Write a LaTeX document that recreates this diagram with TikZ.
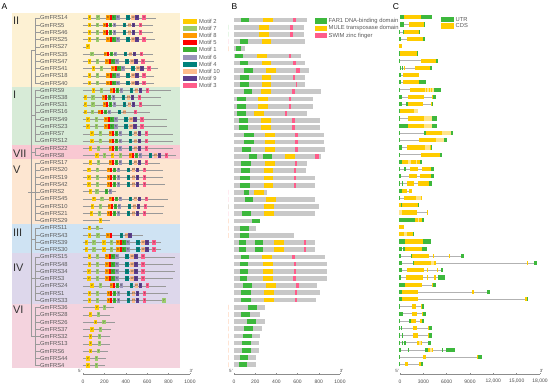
\documentclass[tikz,border=0pt]{standalone}
\usepackage{fontspec}
\setmainfont{Liberation Sans}
\usepackage{xcolor}
\usepackage{tikz}

% group backgrounds
\definecolor{grpII}{HTML}{FDF1D3}
\definecolor{grpI}{HTML}{D7EBD7}
\definecolor{grpVII}{HTML}{F9C8D2}
\definecolor{grpV}{HTML}{FDE6D1}
\definecolor{grpIII}{HTML}{CFE3F3}
\definecolor{grpIV}{HTML}{DDD7EB}
\definecolor{grpVI}{HTML}{F4D3DE}
% motifs
\definecolor{mot1}{HTML}{3CB034}
\definecolor{mot2}{HTML}{FFCC00}
\definecolor{mot3}{HTML}{FF5C8A}
\definecolor{mot4}{HTML}{00827C}
\definecolor{mot5}{HTML}{FF0000}
\definecolor{mot6}{HTML}{9A94B9}
\definecolor{mot7}{HTML}{9CCC6C}
\definecolor{mot8}{HTML}{FF9A00}
\definecolor{mot9}{HTML}{5C3D8E}
\definecolor{mot10}{HTML}{FFBC8C}
% domains and gene structure
\definecolor{bargray}{HTML}{C8C8C8}
\definecolor{domgreen}{HTML}{3DB83D}
\definecolor{domyellow}{HTML}{FFCC00}
\definecolor{dompink}{HTML}{FF5C8A}
\definecolor{cdslight}{HTML}{FFE48A}

\newcommand{\mot}[3]{\node[motif=mot#3] (r#2m#3) at (#1,#2) {#3};}
\newcommand{\core}[2]{% #1 = place of motif 3, #2 = row
    \mot{#1-108}{#2}{8}
    \node[motifv] (r#2m5) at (#1-100,#2) {};
    \mot{#1-90}{#2}{1}
    \mot{#1-78}{#2}{6}
    \mot{#1-48}{#2}{4}
    \mot{#1-33}{#2}{10}
    \mot{#1-21}{#2}{9}
    \mot{#1}{#2}{3}
}

\begin{document}
\begin{tikzpicture}[x=1pt,y=-1pt,
    motif/.style={fill=#1,minimum width=3.4pt,minimum height=4.8pt,inner sep=0pt,
                  font=\fontsize{3}{3}\selectfont,text=black!80},
    motifv/.style={fill=mot5,minimum width=2.2pt,minimum height=4.8pt,inner sep=0pt},
    track/.style={draw=black!40,line width=0.4pt},
    treeline/.style={draw=black!40,line width=0.35pt},
    genename/.style={anchor=west,inner sep=0pt,font=\fontsize{5.8}{6}\selectfont,text=black!65},
    grouplabel/.style={anchor=west,inner sep=0pt,font=\fontsize{11}{11}\selectfont,text=black!80},
    legtext/.style={anchor=west,inner sep=0pt,font=\fontsize{5.8}{6}\selectfont,text=black!65},
    panel/.style={inner sep=0pt,font=\fontsize{8.5}{9}\selectfont},
    axisline/.style={draw=black!45,line width=0.4pt},
    ticklab/.style={inner sep=0pt,font=\fontsize{5}{5}\selectfont,text=black!70},
    primelab/.style={inner sep=0pt,font=\fontsize{4.5}{5}\selectfont,text=black!70},
    intron/.style={draw=black!30,line width=0.5pt},
    segu/.style={fill=domgreen},
    segc/.style={fill=domyellow},
    segl/.style={fill=cdslight}]

\fill[white] (0,0) rectangle (550,386);
\useasboundingbox (0,0) rectangle (550,386);

    % Panel letters
\node[panel] (pA) at (4.5,7) {A};
\node[panel] (pB) at (234.5,7) {B};
\node[panel] (pC) at (396,7) {C};

    % ---------------- A: tree and motifs ----------------
\begin{scope}[shift={(0,17.8)},y=-7.245pt]
    \fill[grpII]  (12,-0.66) rectangle (180,9.5);
    \fill[grpI]   (12,9.5)   rectangle (180,17.5);
    \fill[grpVII] (12,17.5)  rectangle (180,19.5);
    \fill[grpV]   (12,19.5)  rectangle (180,28.5);
    \fill[grpIII] (12,28.5)  rectangle (180,32.5);
    \fill[grpIV]  (12,32.5)  rectangle (180,39.5);
    \fill[grpVI]  (12,39.5)  rectangle (180,48.3);

    % group names
    \node[grouplabel] (gII)  at (12.8,0.4)  {II};
    \node[grouplabel] (gI)   at (12.8,10.6) {I};
    \node[grouplabel] (gVII) at (12.8,18.8) {VII};
    \node[grouplabel] (gV)   at (12.8,20.9) {V};
    \node[grouplabel] (gIII) at (12.8,29.6) {III};
    \node[grouplabel] (gIV)  at (12.8,34.5) {IV};
    \node[grouplabel] (gVI)  at (12.8,40.3) {VI};

    % gene names
    \foreach \g [count=\i from 0] in {GmFRS14,GmFRS5,GmFRS46,GmFRS25,GmFRS27,GmFRS35,GmFRS47,
        GmFRS41,GmFRS18,GmFRS40,GmFRS9,GmFRS38,GmFRS31,GmFRS16,GmFRS49,GmFRS23,GmFRS7,
        GmFRS12,GmFRS22,GmFRS8,GmFRS17,GmFRS20,GmFRS19,GmFRS42,GmFRS2,GmFRS45,GmFRS10,
        GmFRS21,GmFRS29,GmFRS11,GmFRS43,GmFRS39,GmFRS30,GmFRS15,GmFRS48,GmFRS34,GmFRS3,
        GmFRS24,GmFRS1,GmFRS33,GmFRS36,GmFRS28,GmFRS26,GmFRS37,GmFRS32,GmFRS13,GmFRS6,
        GmFRS44,GmFRS4}{
        \node[genename] (n\i) at (40,\i) {\g};
        \draw[treeline] (n\i.west) -- (35,\i);
    }

    % tree (rough)
    \foreach \f/\l in {0/9,10/17,18/19,20/28,29/32,33/39,40/48}{
        \draw[treeline] (35,\f) -- (35,\l);
        \draw[treeline] (31,{(\f+\l)/2}) -- (35,{(\f+\l)/2});
    }
    \draw[treeline] (31,4.5) -- (31,44);
    \draw[treeline] (28,24) -- (31,24);

    % motifs, x in steps of 1/3 px from 78
    \begin{scope}[xshift=78pt,x=0.3333pt]
        \foreach \r/\a/\b/\c/\e in {0/35/60/198/235,1/35/58/188/225,2/35/58/188/225,
            3/35/58/198/230,6/35/58/195/228,7/47/70/213/240,8/35/58/198/228,
            9/35/58/198/228,10/47/70/208/278,11/22/45/185/250,12/22/45/188/248,
            14/30/55/192/268,15/30/55/192/268,16/42/67/205/285,17/42/67/205/285,
            18/37/62/205/285,20/37/62/205/245,21/33/58/200/255,22/33/58/200/255,
            23/33/58/200/260,25/48/72/205/270,26/43/67/202/258,27/40/65/200/255,
            33/35/58/195/290,34/35/58/195/285,35/33/58/195/290,36/33/58/195/285,
            37/42/68/208/265,38/35/58/200/270,39/35/58/200/265}{
            \draw[track] (15,\r) -- (\e,\r);
            \mot{\a}{\r}{2}
            \mot{\b}{\r}{7}
            \core{\c}{\r}
        }
        % only motifs 2 and 7
        \foreach \r/\a/\b/\e in {29/35/58/75,40/57/80/108,41/37/62/95,42/53/78/110,
            43/42/67/100,44/38/65/95,45/38/65/95,46/38/62/90,47/30/55/85,48/30/55/80}{
            \draw[track] (15,\r) -- (\e,\r);
            \mot{\a}{\r}{2}
            \mot{\b}{\r}{7}
        }
        % the rest
        \draw[track] (15,4) -- (35,4);
        \mot{30}{4}{2}
        \draw[track] (15,5) -- (225,5);
        \mot{42}{5}{7}
        \core{190}{5}
        \draw[track] (15,13) -- (215,13);
        \mot{22}{13}{2} \mot{43}{13}{7} \mot{64}{13}{8}
        \node[motifv] (r13m5) at (72,13) {};
        \mot{82}{13}{1} \mot{94}{13}{6} \mot{124}{13}{4} \mot{139}{13}{10} \mot{172}{13}{3}
        \draw[track] (15,19) -- (295,19);
        \mot{57}{19}{2} \mot{80}{19}{7} \mot{103}{19}{2} \mot{128}{19}{7}
        \core{265}{19}
        \draw[track] (15,24) -- (115,24);
        \mot{37}{24}{2} \mot{57}{24}{7} \mot{85}{24}{1} \mot{97}{24}{6}
        \draw[track] (15,28) -- (95,28);
        \mot{68}{28}{2}
        \draw[track] (15,30) -- (195,30);
        \mot{35}{30}{2} \mot{60}{30}{7} \mot{90}{30}{8}
        \node[motifv] (r30m5) at (98,30) {};
        \mot{130}{30}{4} \mot{145}{30}{10} \mot{156}{30}{9}
        \foreach \r in {31,32}{
            \draw[track] (15,\r) -- (250,\r);
            \mot{25}{\r}{2} \mot{48}{\r}{7} \mot{78}{\r}{2} \mot{100}{\r}{7}
            \core{228}{\r}
        }
        \mot{258}{39}{7}
    \end{scope}
\end{scope}

    % motif legend
\foreach \m [count=\k from 0] in {2,7,8,5,1,6,4,10,9,3}{
    \fill[mot\m] (183,{18.8+7.15*\k}) rectangle ++(14,5);
    \node[legtext] (lm\m) at (199,{21.3+7.15*\k}) {Motif \m};
}

    % A scale
\draw[axisline] (83,374) -- (190,374);
\foreach \v [count=\k from 0] in {0,200,400,600,800,1000}{
    \draw[axisline] ({83+21.4*\k},374) -- ++(0,-1.2);
    \node[ticklab] (ta\k) at ({83+21.4*\k},381.5) {\v};
}
\node[primelab] (a5) at (80,371) {5'};
\node[primelab] (a3) at (191.5,371) {3'};

    % ---------------- B: conserved domains ----------------
\begin{scope}[shift={(228,20)},x=0.3333pt,y=-7.18pt]
    \foreach \r/\e/\ga/\gb/\ya/\yb/\pa/\pb in {0/237/38/62/105/135/195/205,
        1/228/0/0/93/123/187/195,2/228/0/0/93/123/187/195,3/232/35/60/102/130/0/0,
        4/50/25/40/0/0/0/0,5/218/20/45/88/118/183/190,6/232/35/60/102/130/195/203,
        7/242/48/75/115/143/205/215,8/232/37/62/102/130/195/202,
        9/232/37/62/102/130/203/208,10/278/48/73/100/130/193/200,
        11/255/27/53/90/120/182/190,12/255/27/53/90/120/182/190,
        13/237/27/53/78/108/170/178,14/275/33/60/100/130/192/200,
        15/275/33/60/100/130/192/200,16/288/47/78/110/140/202/210,
        17/288/47/78/110/140/202/210,18/290/42/68/110/140/202/210,
        19/278/63/88/172/202/260/272,20/238/38/68/112/140/200/207,
        21/235/38/66/107/135/197/205,22/260/37/66/107/135/197/205,
        23/260/37/66/107/135/197/205,24/118/48/63/78/107/0/0,
        25/262/50/75/113/143/0/0,26/272/0/0/107/138/0/0,27/260/43/70/107/137/0/0,
        28/95/72/95/0/0/0/0,29/85/35/63/0/0/0/0,30/197/35/63/0/0/0/0,
        31/260/32/53/137/167/228/235,32/260/32/53/137/167/228/235,
        33/290/38/62/102/132/193/202,34/297/35/60/105/135/197/205,
        35/297/35/60/105/135/197/205,36/297/35/58/105/135/195/203,
        37/268/45/72/113/143/205/213,38/275/40/68/107/137/200/207,
        39/265/40/68/107/137/200/207,40/110/60/87/0/0/0/0,41/95/38/65/0/0/0/0,
        42/110/57/83/0/0/0/0,43/103/47/75/0/0/0/0,44/97/45/72/0/0/0/0,
        45/93/43/70/0/0/0/0,46/92/42/68/0/0/0/0,47/85/35/60/0/0/0/0,
        48/83/32/58/0/0/0/0}{
        \fill[bargray] (18,\r-0.33) rectangle (\e,\r+0.33);
        \fill[domgreen] (\ga,\r-0.33) rectangle (\gb,\r+0.33);
        \fill[domyellow] (\ya,\r-0.33) rectangle (\yb,\r+0.33);
        \fill[dompink] (\pa,\r-0.33) rectangle (\pb,\r+0.33);
    }
    % second FAR1 domain
    \foreach \r/\ga/\gb in {19/105/133,31/80/105,32/80/105}
        \fill[domgreen] (\ga,\r-0.33) rectangle (\gb,\r+0.33);
\end{scope}

    % domain legend
\foreach \c/\t [count=\k from 0] in {domgreen/FAR1 DNA-binding domain,
        domyellow/MULE transposase domain,dompink/SWIM zinc finger}{
    \fill[\c] (314.5,{18.3+7.2*\k}) rectangle ++(12.8,5.6);
    \node[legtext] (ld\k) at (328.5,{21.1+7.2*\k}) {\t};
}

    % B scale
\draw[axisline] (234,374) -- (340,374);
\foreach \v [count=\k from 0] in {0,200,400,600,800,1000}{
    \draw[axisline] ({234+21.2*\k},374) -- ++(0,-1.2);
    \node[ticklab] (tb\k) at ({234+21.2*\k},381.5) {\v};
}
\node[primelab] (b5) at (231,371) {5'};
\node[primelab] (b3) at (341.5,371) {3'};

    % ---------------- C: gene structure ----------------
\begin{scope}[shift={(395,17.3)},x=0.3333pt,y=-7.23pt]
    \foreach \r/\s/\e/\segs in {0/14/112/{u/14/28,c/28/78,u/78/112},
        1/14/91/{u/14/28,c/42/88,u/88/91},
        2/12/75/{u/12/16,u/25/28,c/28/72,u/72/75},
        3/13/89/{u/13/18,c/35/83,u/83/89},
        4/13/20/{c/13/20},
        5/13/67/{u/13/16,c/16/65,u/65/67},
        6/13/128/{u/13/15,c/78/123,u/123/128},
        7/14/110/{u/14/17,u/20/25,c/26/30,c/60/105,u/105/110},
        8/13/72/{u/13/17,c/24/72},
        9/13/93/{u/13/17,c/24/72,u/72/93},
        10/13/137/{u/13/15,c/45/90,l/90/118,c/93/96,c/101/104,c/107/110,u/118/137},
        11/13/124/{u/13/22,c/38/88,c/110/113,u/113/124},
        12/13/113/{u/13/20,u/32/38,c/38/85,c/107/110,u/110/113},
        13/13/70/{u/13/16,c/16/58,l/58/70},
        14/13/127/{u/13/15,c/38/88,l/88/112,u/112/127},
        15/13/127/{u/13/38,c/38/88,l/88/112,u/112/127},
        16/13/175/{u/13/16,u/88/92,c/92/142,l/142/168,u/168/175},
        17/13/155/{u/13/16,c/72/122,l/122/148,u/148/155},
        18/13/112/{u/13/22,c/35/90,l/90/105,c/105/108,u/108/112},
        19/13/142/{u/13/16,c/78/135,u/135/142},
        20/13/80/{u/13/22,c/22/40,l/40/48,c/48/62,l/62/65,c/65/75,u/75/80},
        21/13/118/{u/13/16,u/28/32,c/45/70,c/82/108,u/108/118},
        22/13/117/{u/13/18,c/42/65,c/75/108,u/108/117},
        23/13/112/{u/13/16,u/20/22,c/35/58,c/70/103,u/103/112},
        24/13/50/{u/13/20,c/20/35,c/42/50},
        25/12/82/{u/12/15,c/28/62,l/62/78,c/78/82},
        26/13/72/{c/13/18,u/18/22,c/22/68,u/68/72},
        27/13/97/{l/13/22,c/22/65,c/95/97},
        28/13/87/{u/13/60,c/60/68,l/68/72,c/72/80,u/80/87},
        29/13/28/{c/13/28},
        30/13/58/{c/13/28,l/28/35,c/35/55,u/55/58},
        31/13/108/{u/13/30,c/30/85,u/85/108},
        32/13/97/{u/13/22,u/25/30,c/30/82,u/82/97},
        33/13/207/{u/13/18,u/48/52,c/52/102,c/115/118,c/162/165,u/198/207},
        34/13/425/{u/13/20,u/55/58,c/58/108,l/108/118,c/118/122,c/395/400,u/418/425},
        35/13/145/{u/13/22,c/35/88,c/95/100,c/125/130,u/138/145},
        36/13/150/{u/13/18,c/32/83,c/95/100,c/118/122,u/130/150},
        37/13/122/{u/13/30,c/30/80,c/110/113,u/113/122},
        38/13/284/{u/13/20,c/20/70,c/232/238,u/277/284},
        39/13/400/{u/13/20,c/20/70,c/390/395,u/395/400},
        40/13/88/{u/13/15,c/50/62,c/78/82,u/82/88},
        41/13/92/{u/13/25,c/52/65,c/80/83,u/83/92},
        42/13/88/{u/13/15,u/42/48,c/48/62,c/75/80,u/80/88},
        43/13/110/{u/13/16,u/19/21,c/55/65,c/98/102,u/102/110},
        44/13/110/{u/13/16,u/20/22,c/55/68,c/98/102,u/102/110},
        45/13/108/{u/13/16,u/20/22,u/28/32,c/65/72,l/72/78,c/78/80,c/98/100,u/100/108},
        46/13/180/{u/13/18,u/38/40,u/90/98,c/98/105,l/105/110,c/110/113,u/140/143,u/152/180},
        47/13/260/{u/13/15,c/85/93,c/245/250,u/250/260},
        48/13/85/{u/13/15,c/30/40,c/72/78,u/78/85}}{
        \draw[intron] (\s,\r) -- (\e,\r);
        \foreach \t/\a/\b in \segs
            \fill[seg\t] (\a,\r-0.29) rectangle (\b,\r+0.29);
    }
\end{scope}

    % UTR / CDS legend
\fill[domgreen] (441,16.7) rectangle (454,22);
\fill[domyellow] (441,23.3) rectangle (454,28.7);
\node[legtext] (lutr) at (455.5,19.4) {UTR};
\node[legtext] (lcds) at (455.5,26) {CDS};

    % C scale
\draw[axisline] (400,374) -- (540,374);
\foreach \v [count=\k from 0] in {0,3000,6000,9000,{12,000},{15,000},{18,000}}{
    \draw[axisline] ({400+23.33*\k},374) -- ++(0,-1.2);
    \node[ticklab] (tc\k) at ({400+23.33*\k},381.5) {\v};
}
\node[primelab] (c5) at (397,371) {5'};
\node[primelab] (c3) at (541.5,371) {3'};

\end{tikzpicture}
\end{document}
